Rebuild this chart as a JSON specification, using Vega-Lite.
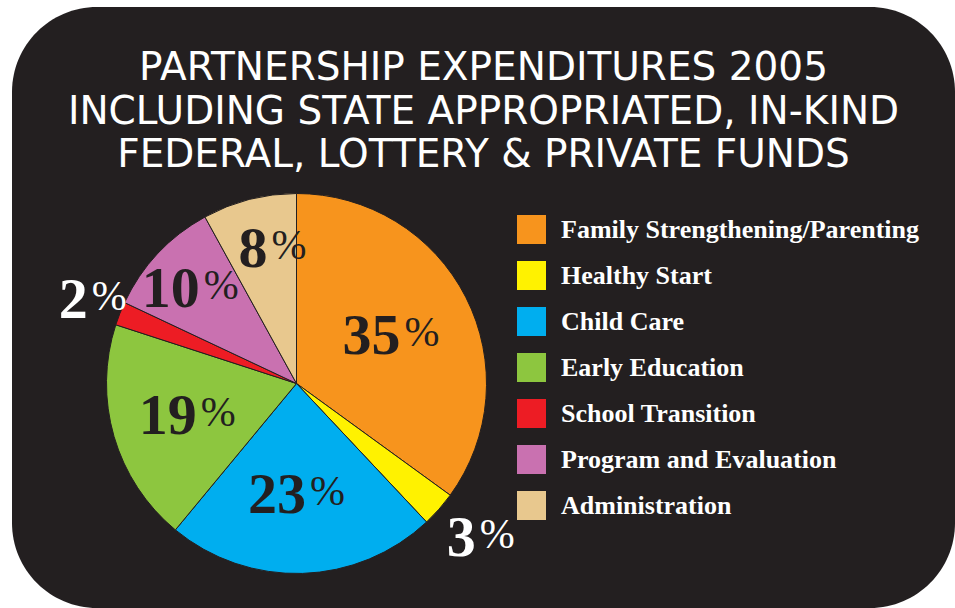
{
  "$schema": "https://vega.github.io/schema/vega-lite/v6.json",
  "width": 955,
  "height": 608,
  "autosize": {"type": "fit", "contains": "padding"},
  "padding": {"left": 12, "top": 7, "right": 0, "bottom": 0},
  "background": "white",
  "config": {"view": {"fill": "#231f20", "stroke": null, "cornerRadius": 85}},
  "title": {
    "text": ["PARTNERSHIP EXPENDITURES 2005", "INCLUDING STATE APPROPRIATED, IN-KIND", "FEDERAL, LOTTERY & PRIVATE FUNDS"],
    "color": "white",
    "font": "DejaVu Sans",
    "fontSize": 39,
    "fontWeight": "normal",
    "lineHeight": 43.5,
    "anchor": "middle",
    "frame": "group",
    "orient": "top",
    "baseline": "top",
    "offset": -168
  },
  "data": {
    "values": [
      {"category": "Family Strengthening/Parenting", "pct": 35, "idx": 1},
      {"category": "Healthy Start", "pct": 3, "idx": 2},
      {"category": "Child Care", "pct": 23, "idx": 3},
      {"category": "Early Education", "pct": 19, "idx": 4},
      {"category": "School Transition", "pct": 2, "idx": 5},
      {"category": "Program and Evaluation", "pct": 10, "idx": 6},
      {"category": "Administration", "pct": 8, "idx": 7}
    ]
  },
  "encoding": {
    "theta": {"field": "pct", "type": "quantitative", "stack": true},
    "order": {"field": "idx", "type": "quantitative"}
  },
  "layer": [
    {
      "mark": {"type": "arc", "outerRadius": 190, "stroke": "#231f20", "strokeWidth": 1},
      "encoding": {
        "x": {"value": 284.5},
        "y": {"value": 376.5},
        "color": {
          "field": "category",
          "type": "nominal",
          "scale": {
            "domain": ["Family Strengthening/Parenting", "Healthy Start", "Child Care", "Early Education", "School Transition", "Program and Evaluation", "Administration"],
            "range": ["#f7941d", "#fff200", "#00aeef", "#8dc63f", "#ed1c24", "#c971b0", "#e8c88e"]
          },
          "legend": {
            "title": null,
            "orient": "none",
            "legendX": 505,
            "legendY": 208,
            "padding": 0,
            "symbolType": "square",
            "symbolSize": 841,
            "symbolStrokeWidth": 0,
            "symbolOpacity": 1,
            "labelFont": "Liberation Serif",
            "labelFontWeight": "bold",
            "labelFontSize": 26,
            "labelColor": "white",
            "labelLimit": 500,
            "labelOffset": 15,
            "rowPadding": 17
          }
        }
      }
    },
    {
      "mark": {"type": "text", "font": "Liberation Serif", "fontWeight": "bold", "fontSize": 58, "align": "right", "baseline": "alphabetic", "dx": 6, "dy": 20},
      "encoding": {
        "x": {"value": 284.5},
        "y": {"value": 376.5},
        "radius": {"value": {"expr": "datum.pct <= 3 ? 231 : (datum.pct <= 10 && datum.pct >= 8 ? 141 : 110)"}},
        "text": {"field": "pct", "type": "quantitative"},
        "fill": {"condition": {"test": "datum.pct <= 3", "value": "white"}, "value": "#231f20"}
      }
    },
    {
      "mark": {"type": "text", "font": "Liberation Serif", "fontWeight": "normal", "fontSize": 42, "align": "left", "baseline": "alphabetic", "dx": 10, "dy": 12},
      "encoding": {
        "x": {"value": 284.5},
        "y": {"value": 376.5},
        "radius": {"value": {"expr": "datum.pct <= 3 ? 231 : (datum.pct <= 10 && datum.pct >= 8 ? 141 : 110)"}},
        "text": {"value": "%"},
        "fill": {"condition": {"test": "datum.pct <= 3", "value": "white"}, "value": "#231f20"}
      }
    }
  ]
}
